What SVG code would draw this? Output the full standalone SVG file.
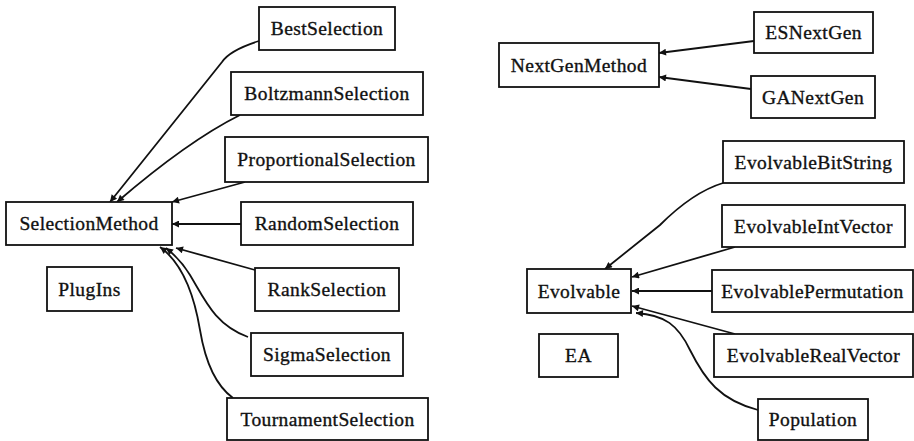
<svg xmlns="http://www.w3.org/2000/svg" width="914" height="441" viewBox="0 0 914 441">
<style>
.box rect{fill:#fff;stroke:#111;stroke-width:1.8}
.box text{font-family:"Liberation Serif",serif;font-size:19.5px;letter-spacing:0.4px;fill:#111;stroke:#111;stroke-width:0.35;text-anchor:middle;dominant-baseline:central}
.edges path{fill:none;stroke:#111;stroke-width:1.8;marker-end:url(#ah)}
</style>
<defs>
<marker id="ah" viewBox="0 0 10 10" refX="10" refY="5" markerWidth="12" markerHeight="7" markerUnits="userSpaceOnUse" orient="auto">
<path d="M0,0 L10,5 L0,10 z" fill="#111"/>
</marker>
</defs>
<rect width="914" height="441" fill="#fff"/>
<g class="edges">
<path d="M259,41 C240,47 228,53 222,62 L110,202"/>
<path d="M240,115 C200,135 160,165 117,202"/>
<path d="M245,182 L172,202"/>
<path d="M241,224 L172,224"/>
<path d="M255,270 L176,248"/>
<path d="M248,337 C215,325 205,300 190,275 C182,262 175,255 166,248"/>
<path d="M233,398 C215,385 205,360 200,330 C195,300 185,265 160,247"/>
<path d="M754,41 L659,53"/>
<path d="M751,89 L659,77"/>
<path d="M723,183 C700,190 680,205 660,225 L605,269"/>
<path d="M735,247 L632,277"/>
<path d="M712,291 L632,291"/>
<path d="M735,334 L632,306"/>
<path d="M758,410 C720,400 705,380 690,350 C678,325 665,315 636,313"/>
</g>
<g id="BestSelection" class="box"><rect x="259" y="7" width="136" height="43"/><text x="327" y="28.5">BestSelection</text></g>
<g id="BoltzmannSelection" class="box"><rect x="231" y="72" width="192" height="43"/><text x="327" y="93.5">BoltzmannSelection</text></g>
<g id="ProportionalSelection" class="box"><rect x="225" y="137" width="203" height="45"/><text x="326.5" y="159.5">ProportionalSelection</text></g>
<g id="SelectionMethod" class="box"><rect x="6" y="202" width="166" height="43"/><text x="89" y="223.5">SelectionMethod</text></g>
<g id="RandomSelection" class="box"><rect x="241" y="202" width="172" height="43"/><text x="327" y="223.5">RandomSelection</text></g>
<g id="PlugIns" class="box"><rect x="47" y="267" width="85" height="44"/><text x="89.5" y="289">PlugIns</text></g>
<g id="RankSelection" class="box"><rect x="255" y="268" width="144" height="43"/><text x="327" y="289.5">RankSelection</text></g>
<g id="SigmaSelection" class="box"><rect x="251" y="333" width="152" height="43"/><text x="327" y="354.5">SigmaSelection</text></g>
<g id="TournamentSelection" class="box"><rect x="227" y="398" width="201" height="42"/><text x="327.5" y="419">TournamentSelection</text></g>
<g id="ESNextGen" class="box"><rect x="754" y="12" width="119" height="41"/><text x="813.5" y="32.5">ESNextGen</text></g>
<g id="NextGenMethod" class="box"><rect x="499" y="43" width="160" height="44"/><text x="579" y="65">NextGenMethod</text></g>
<g id="GANextGen" class="box"><rect x="751" y="76" width="124" height="42"/><text x="813" y="97">GANextGen</text></g>
<g id="EvolvableBitString" class="box"><rect x="723" y="141" width="181" height="42"/><text x="813.5" y="162">EvolvableBitString</text></g>
<g id="EvolvableIntVector" class="box"><rect x="722" y="205" width="183" height="42"/><text x="813.5" y="226">EvolvableIntVector</text></g>
<g id="Evolvable" class="box"><rect x="527" y="269" width="104" height="44"/><text x="579" y="291">Evolvable</text></g>
<g id="EvolvablePermutation" class="box"><rect x="712" y="270" width="201" height="42"/><text x="812.5" y="291">EvolvablePermutation</text></g>
<g id="EA" class="box"><rect x="539" y="334" width="79" height="43"/><text x="578.5" y="355.5">EA</text></g>
<g id="EvolvableRealVector" class="box"><rect x="714" y="334" width="199" height="43"/><text x="813.5" y="355.5">EvolvableRealVector</text></g>
<g id="Population" class="box"><rect x="758" y="399" width="110" height="41"/><text x="813" y="419.5">Population</text></g>
</svg>
